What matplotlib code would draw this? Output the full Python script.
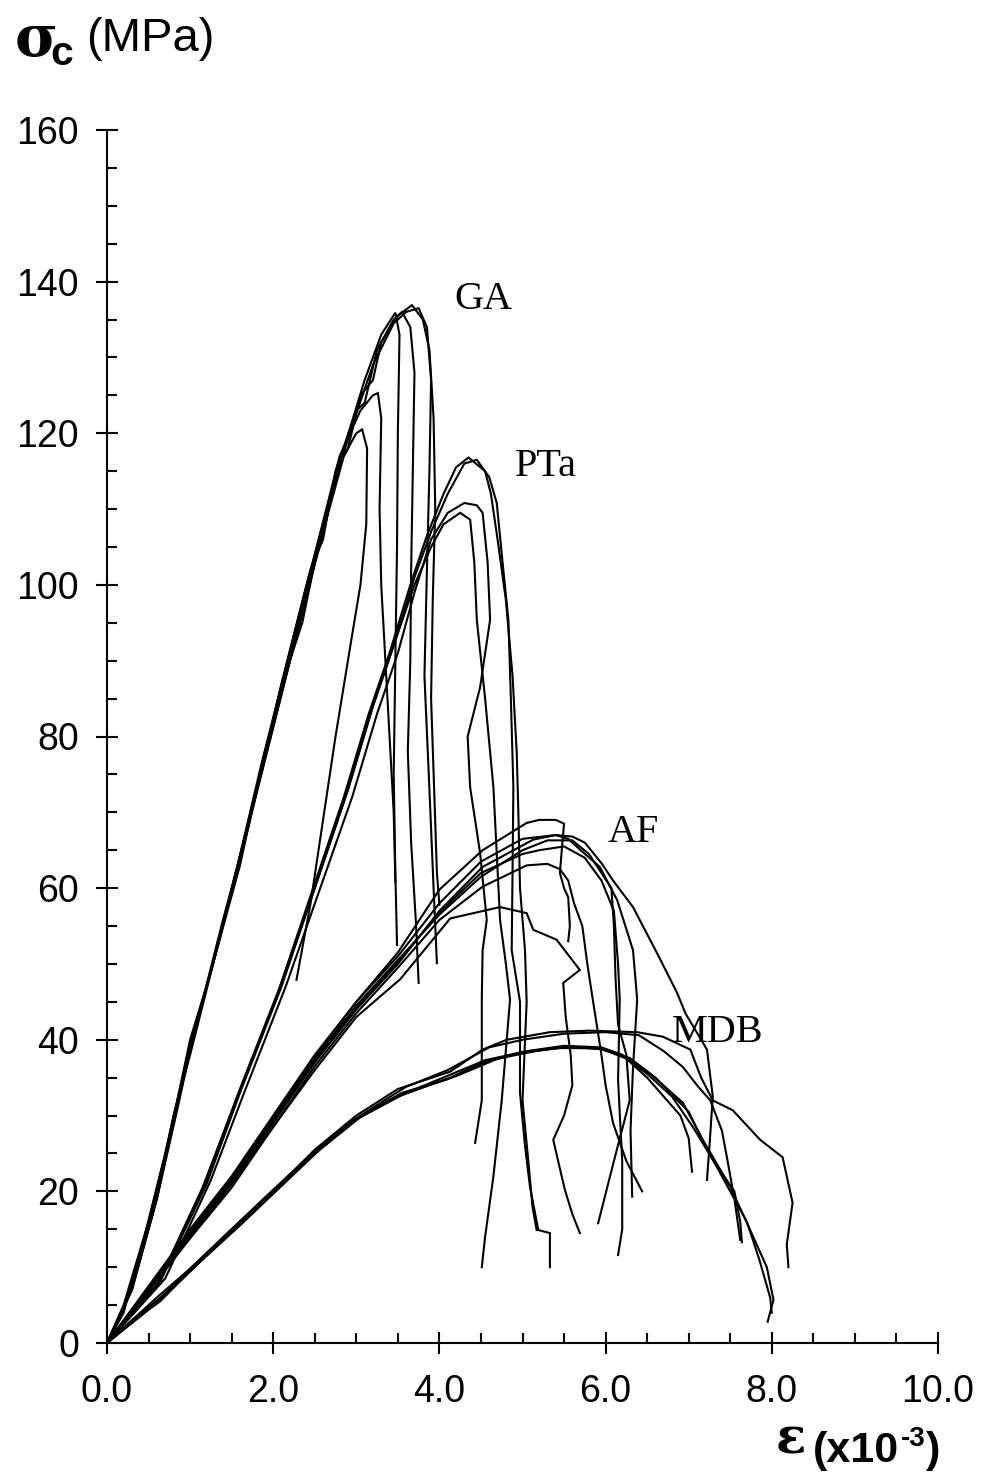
"""
Compression stress-strain curves for the four stones (GA, PTa, AF, MDB).
"""

import matplotlib.pyplot as plt

plt.rcParams["mathtext.fontset"] = "custom"
plt.rcParams["mathtext.rm"] = "Liberation Sans"
plt.rcParams["mathtext.bf"] = "Liberation Sans:bold"

# ---- GA (granite) ----
ga1_eps = [0, 0.25, 0.55, 0.8, 1.0, 1.3, 1.6, 1.9, 2.2, 2.35, 2.5, 2.8, 2.9, 3.05, 3.2, 3.3, 3.5, 3.67, 3.8, 3.88, 3.93, 3.95, 3.92, 3.9, 3.94, 3.97, 4.0]
ga1_sig = [0, 6, 18, 29, 39, 51, 64, 77, 90, 95, 103, 116, 118, 125, 127, 132, 135.5, 136.9, 135, 131, 122, 110, 98, 85, 72, 62, 57.8]
ga2_eps = [0, 0.2, 0.5, 0.75, 1.0, 1.25, 1.55, 1.85, 2.15, 2.45, 2.6, 2.75, 3.0, 3.1, 3.25, 3.45, 3.55, 3.65, 3.7, 3.68, 3.66, 3.65, 3.62, 3.66, 3.72, 3.75]
ga2_sig = [0, 5, 16, 27, 40, 49, 62, 76, 89, 102, 106, 115, 123, 124, 131, 135, 136, 134, 128, 115, 102, 90, 78, 66, 55, 47.5]
ga3_eps = [0, 0.3, 0.6, 0.85, 1.05, 1.35, 1.65, 1.95, 2.25, 2.55, 2.85, 3.1, 3.3, 3.47, 3.52, 3.5, 3.49, 3.47, 3.45, 3.47, 3.49]
ga3_sig = [0, 7, 19, 31, 41, 53, 66, 79, 92, 105, 118, 127, 133, 135.9, 133, 120, 105, 90, 75, 62, 52.5]
ga4_eps = [0, 0.25, 0.55, 0.8, 1.0, 1.3, 1.6, 1.9, 2.2, 2.5, 2.8, 3.05, 3.2, 3.26, 3.3, 3.28, 3.3, 3.35, 3.4, 3.45, 3.47]
ga4_sig = [0, 6, 17, 30, 38, 51, 63, 78, 90, 104, 117, 123, 125, 125.3, 122, 110, 100, 90, 80, 70, 60.8]
ga5_eps = [0, 0.3, 0.6, 0.9, 1.1, 1.4, 1.7, 2.0, 2.3, 2.6, 2.85, 3.0, 3.07, 3.13, 3.12, 3.05, 2.92, 2.75, 2.6, 2.45, 2.28]
ga5_sig = [0, 7, 19, 34, 43, 56, 68, 82, 94, 107, 117, 120, 120.5, 118, 108, 100, 91.4, 80, 69, 58, 47.9]
ga6_eps = [0, 0.2, 0.45, 0.7, 0.95, 1.2, 1.5, 1.8, 2.1, 2.4, 2.7, 2.95, 3.2, 3.45, 3.6, 3.75, 3.85, 3.9, 3.88, 3.85, 3.82, 3.88, 3.93, 3.97]
ga6_sig = [0, 4, 14, 25, 37, 47, 60, 73, 87, 100, 112, 121, 129, 134.5, 136, 136.5, 134, 127, 115, 102, 88, 73, 60, 50.1]

# ---- PTa ----
pta1_eps = [0, 0.65, 1.2, 1.6, 2.1, 2.5, 2.9, 3.2, 3.45, 3.7, 3.9, 4.1, 4.3, 4.45, 4.6, 4.69, 4.76, 4.83, 4.86, 4.89, 4.88, 4.87, 4.97, 4.97, 5.03, 5.09, 5.19, 5.33, 5.33]
pta1_sig = [0, 8.3, 21, 33, 47, 60, 73, 84, 92, 101, 107, 112, 116, 116.5, 114.2, 110.8, 103, 95.4, 85, 73.3, 62, 51.8, 45, 33, 26, 20.6, 14.9, 14.5, 10]
pta2_eps = [0, 0.6, 1.15, 1.55, 2.05, 2.45, 2.85, 3.15, 3.4, 3.65, 3.85, 4.05, 4.2, 4.35, 4.55, 4.62, 4.7, 4.8, 4.88, 4.93, 4.95, 4.97, 5.03, 5.05, 5.0, 5.07, 5.12, 5.17]
pta2_sig = [0, 7.5, 20.5, 32, 46, 59, 72, 83, 91, 100, 106.5, 112, 115.5, 116.8, 115, 112, 106, 98, 88, 78, 70, 60, 51.8, 45, 32, 24, 18, 14.9]
pta3_eps = [0, 0.7, 1.25, 1.65, 2.15, 2.55, 2.95, 3.25, 3.5, 3.7, 3.9, 4.1, 4.3, 4.45, 4.52, 4.58, 4.61, 4.49, 4.34, 4.37, 4.49, 4.57, 4.52, 4.51, 4.51, 4.43]
pta3_sig = [0, 8.5, 21.5, 33, 47, 59.5, 72, 83, 91, 99, 106, 109.5, 110.8, 110.5, 109.5, 103, 95.4, 86.5, 80, 73.3, 64.6, 55.8, 51.8, 45.3, 32, 26.4]
pta4_eps = [0, 0.62, 1.18, 1.6, 2.1, 2.5, 2.9, 3.2, 3.45, 3.7, 3.9, 4.05, 4.25, 4.37, 4.42, 4.45, 4.55, 4.65, 4.73, 4.8, 4.85, 4.75, 4.65, 4.55, 4.51]
pta4_sig = [0, 8, 21, 33.5, 47.5, 60, 73, 84, 92, 100, 105, 108, 109.5, 108.6, 103, 95.4, 85, 73.3, 55.8, 50, 45.3, 32, 22, 14, 10]

# ---- AF ----
af1_eps = [0, 0.5, 1.0, 1.5, 2.0, 2.5, 3.0, 3.5, 4.0, 4.52, 5.05, 5.2, 5.4, 5.5, 5.48, 5.45, 5.5, 5.55, 5.57, 5.55]
af1_sig = [0, 7.5, 15, 22, 30, 38, 45, 51.5, 59.8, 65, 68.6, 69, 69, 68.5, 66, 62, 60, 58.8, 55, 53]
af2_eps = [0, 0.5, 1.0, 1.5, 2.0, 2.5, 3.0, 3.5, 4.0, 4.52, 5.13, 5.4, 5.6, 5.75, 5.95, 6.09, 6.33, 6.62, 6.86, 6.96, 7.22, 7.29, 7.25, 7.22]
af2_sig = [0, 7, 14, 21, 29, 37, 44, 50, 57, 62.8, 66.4, 67, 66.8, 66, 63.3, 61, 57.5, 51.4, 46.2, 43.5, 38.7, 32.5, 26, 21.5]
af3_eps = [0, 0.5, 1.0, 1.5, 2.0, 2.5, 3.0, 3.5, 4.0, 4.5, 5.0, 5.3, 5.6, 5.8, 5.95, 6.07, 6.1, 6.12, 6.15, 6.25, 6.29, 6.1, 5.91]
af3_sig = [0, 7.2, 14.5, 21.5, 29.5, 37.5, 44.5, 50.5, 56.5, 61.5, 65, 66.3, 66.3, 64.5, 62, 60, 55, 48, 42, 38, 32, 24, 15.8]
af4_eps = [0, 0.5, 1.0, 1.5, 2.0, 2.5, 3.0, 3.5, 4.0, 4.52, 5.05, 5.3, 5.45, 5.55, 5.62, 5.72, 5.78, 5.85, 5.95, 6.0, 6.09, 6.25, 6.44]
af4_sig = [0, 6.8, 13.8, 20.5, 28.5, 36.5, 43.5, 49.5, 55.8, 60.2, 63, 63.2, 62.5, 61, 58, 55, 50, 45, 38, 34, 29, 24, 20]
af5_eps = [0, 0.5, 1.0, 1.5, 2.0, 2.5, 3.0, 3.5, 4.0, 4.5, 5.0, 5.4, 5.55, 5.7, 5.93, 6.14, 6.33, 6.38, 6.33, 6.3, 6.32]
af5_sig = [0, 7.3, 14.6, 21.8, 29.8, 37.8, 45, 51, 58, 63.5, 66.5, 67, 66.5, 65, 62.8, 58.4, 51.8, 45.3, 36.4, 28, 19.3]
af6_eps = [0, 0.5, 1.0, 1.5, 2.0, 2.5, 3.0, 3.53, 4.13, 4.73, 5.05, 5.13, 5.41, 5.69, 5.49, 5.52, 5.58, 5.6, 5.5, 5.37, 5.45, 5.51, 5.6, 5.69]
af6_sig = [0, 7, 14, 21, 28.5, 36, 43, 48, 56, 57.5, 56.7, 54.5, 53.2, 49.2, 47.5, 43, 38, 34, 30, 26.8, 23, 20.2, 17, 14.5]
af7_eps = [0, 0.5, 1.0, 1.5, 2.0, 2.5, 3.0, 3.5, 4.0, 4.5, 5.0, 5.2, 5.5, 5.75, 5.95, 6.1, 6.15, 6.17, 6.15, 6.2, 6.2, 6.15]
af7_sig = [0, 7.1, 14.2, 21.2, 29.2, 37.2, 44.2, 50.2, 56.8, 62, 64.5, 65, 65.5, 64, 61, 57, 50, 45.3, 34.7, 24, 15, 11.6]

# ---- MDB ----
mdb1_eps = [0, 0.3, 0.64, 1.0, 1.5, 1.95, 2.5, 3.0, 3.5, 4.13, 4.5, 4.93, 5.4, 5.9, 6.29, 6.53, 6.93, 7.17, 7.5, 7.74, 7.94, 8.02, 7.95]
mdb1_sig = [0, 2.8, 5.5, 9.5, 14.8, 19.5, 25, 29.5, 32.5, 35, 36.9, 38.2, 38.9, 38.9, 37.6, 35.6, 31.7, 26.8, 20.6, 14.9, 10, 5.7, 2.8]
mdb2_eps = [0, 0.35, 0.7, 1.05, 1.55, 2.0, 2.45, 2.95, 3.55, 4.1, 4.6, 5.0, 5.5, 5.95, 6.3, 6.6, 7.0, 7.2, 7.45, 7.7, 7.85, 7.98, 8.0]
mdb2_sig = [0, 3.3, 6.5, 10, 15.5, 20, 24.5, 29.2, 33, 34.8, 37.2, 38.3, 39, 38.8, 37.3, 35, 30.5, 26, 21, 16, 11, 6, 4]
mdb3_eps = [0, 0.3, 0.6, 1.0, 1.45, 1.9, 2.4, 2.9, 3.45, 4.0, 4.55, 5.05, 5.5, 5.95, 6.2, 6.5, 6.8, 7.05, 7.3, 7.55, 7.62, 7.64]
mdb3_sig = [0, 3, 6, 9.8, 14.5, 19.2, 24.3, 29, 32.3, 34.8, 37.3, 38.5, 39.2, 39, 38, 35.5, 32.5, 28.5, 24, 20, 16, 13.3]
mdb4_eps = [0, 0.4, 0.7, 1.1, 1.6, 2.05, 2.55, 3.05, 3.6, 4.2, 4.7, 5.2, 5.6, 6.0, 6.2, 6.5, 6.9, 7.0, 7.04]
mdb4_sig = [0, 3.5, 6.3, 10.5, 15.5, 20.2, 25.4, 29.8, 33, 35.2, 37.5, 38.6, 39.1, 38.7, 38, 35, 30, 27, 22.6]
mdb5_eps = [0, 0.3, 0.65, 1.0, 1.5, 2.0, 2.5, 3.0, 3.5, 4.13, 4.52, 4.81, 5.33, 5.8, 6.38, 6.69, 7.02, 7.15, 7.29, 7.53, 7.86, 8.13, 8.25, 8.18, 8.2]
mdb5_sig = [0, 3, 6, 9.8, 15, 20, 25.5, 30, 33.5, 35.8, 38.7, 40, 41, 41.2, 41, 40.4, 38.7, 35, 32, 30.7, 26.8, 24.5, 18.5, 13, 10]
mdb6_eps = [0, 0.35, 0.7, 1.05, 1.55, 2.05, 2.55, 3.05, 3.6, 4.1, 4.6, 5.0, 5.5, 6.0, 6.4, 6.7, 6.93, 7.1, 7.26, 7.4, 7.46, 7.55, 7.62]
mdb6_sig = [0, 3.2, 6.3, 10, 15.2, 20.3, 25.8, 30, 33.8, 36, 39, 40, 40.8, 41, 40.6, 38.5, 36.4, 34, 32, 28, 24.5, 19, 13.6]

curves = [
    (ga1_eps, ga1_sig), (ga2_eps, ga2_sig), (ga3_eps, ga3_sig),
    (ga4_eps, ga4_sig), (ga5_eps, ga5_sig), (ga6_eps, ga6_sig),
    (pta1_eps, pta1_sig), (pta2_eps, pta2_sig), (pta3_eps, pta3_sig), (pta4_eps, pta4_sig),
    (af1_eps, af1_sig), (af2_eps, af2_sig), (af3_eps, af3_sig), (af4_eps, af4_sig),
    (af5_eps, af5_sig), (af6_eps, af6_sig), (af7_eps, af7_sig),
    (mdb1_eps, mdb1_sig), (mdb2_eps, mdb2_sig), (mdb3_eps, mdb3_sig),
    (mdb4_eps, mdb4_sig), (mdb5_eps, mdb5_sig), (mdb6_eps, mdb6_sig),
]

# group labels and where they sit (strain, stress)
group_names = ["GA", "PTa", "AF", "MDB"]
group_pos = [(4.18, 137.6), (4.91, 115.6), (6.02, 67.4), (6.80, 41.0)]

x_ticks = [0, 2, 4, 6, 8, 10]
x_ticklabels = ["0.0", "2.0", "4.0", "6.0", "8.0", "10.0"]
y_ticks = [0, 20, 40, 60, 80, 100, 120, 140, 160]

W, H = 986, 1484
fig = plt.figure(figsize=(W / 100, H / 100), dpi=100)
ax = fig.add_axes([107 / W, 141 / H, 831 / W, 1213 / H])

for eps, sig in curves:
    ax.plot(eps, sig, color="black", lw=1.5, solid_joinstyle="miter")

for name, (x, y) in zip(group_names, group_pos):
    ax.text(x, y, name, family="Liberation Serif", fontsize=29,
            ha="left", va="center")

ax.set_xlim(0, 10)
ax.set_ylim(0, 160)
ax.spines["top"].set_visible(False)
ax.spines["right"].set_visible(False)
for s in ("left", "bottom"):
    ax.spines[s].set_linewidth(1.5)

ax.set_xticks(x_ticks)
ax.set_xticklabels(x_ticklabels)
ax.set_xticks([i * 0.5 for i in range(21)], minor=True)
ax.set_yticks(y_ticks)
ax.set_yticks(list(range(0, 161, 5)), minor=True)

ax.tick_params(which="major", direction="inout", length=16, width=1.5,
               labelsize=27)
ax.tick_params(axis="y", which="major", pad=12)
ax.tick_params(axis="x", which="major", pad=14)
ax.tick_params(which="minor", direction="in", length=7, width=1.5)
for lab in ax.get_xticklabels() + ax.get_yticklabels():
    lab.set_family("Liberation Sans")

# axis titles, built from pieces like the original
# sigma with a bold sans "c" tucked under its tail, kept as one text
fig.text(14 / W, 1 - 55 / H, r"σ$_{\!\mathbf{c}}$", family="DejaVu Serif",
         weight="bold", fontsize=42, va="baseline", ha="left")
fig.text(86 / W, 1 - 51 / H, "(MPa)", family="Liberation Sans",
         fontsize=34, va="baseline", ha="left")

fig.text(776 / W, 1 - 1453 / H, "ε", family="DejaVu Serif", weight="bold",
         fontsize=36, va="baseline", ha="left")
fig.text(813 / W, 1 - 1462 / H, "(x10", family="Liberation Sans",
         weight="bold", fontsize=31, va="baseline", ha="left")
fig.text(901 / W, 1 - 1446 / H, "-3", family="Liberation Sans",
         weight="bold", fontsize=20, va="baseline", ha="left")
fig.text(926 / W, 1 - 1462 / H, ")", family="Liberation Sans",
         weight="bold", fontsize=31, va="baseline", ha="left")

plt.savefig("out.png", dpi=100)
